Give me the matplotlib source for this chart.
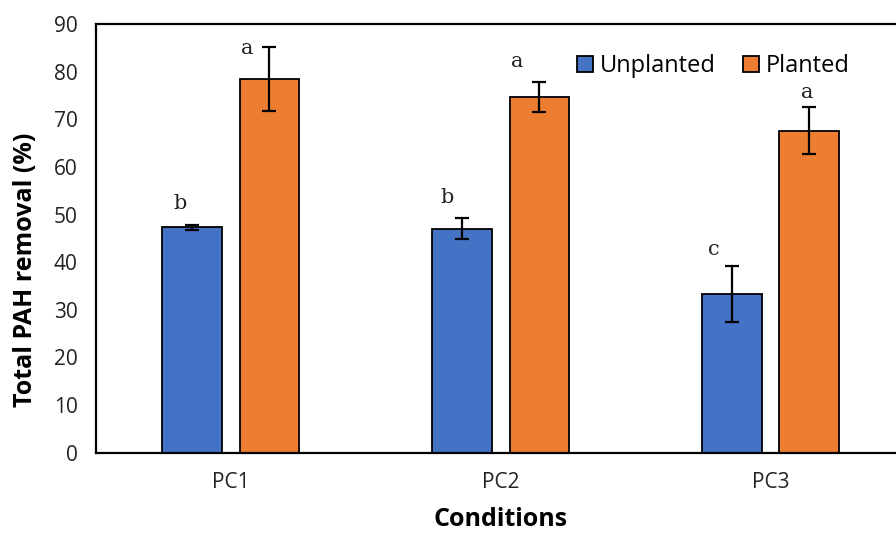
import matplotlib.pyplot as plt
import numpy as np

# data
conditions = ['PC1', 'PC2', 'PC3']
unplanted = [47.3, 47.0, 33.3]
unplanted_err = [0.6, 2.2, 5.9]
planted = [78.4, 74.7, 67.6]
planted_err = [6.7, 3.2, 4.9]
unplanted_letters = ['b', 'b', 'c']
planted_letters = ['a', 'a', 'a']

blue = '#4472C4'
orange = '#ED7D31'

fig = plt.figure(figsize=(8.96, 5.33), dpi=100)
# the reference is cropped on the right, so the axes run slightly past the figure edge
ax = fig.add_axes([0.107, 0.1507, 0.904, 0.8043])

x = np.arange(len(conditions))
width = 0.222
off = 0.143

err_kw = dict(ecolor='black', elinewidth=1.6, capsize=5, capthick=1.6)
b1 = ax.bar(x - off, unplanted, width, color=blue, edgecolor='black', linewidth=1.3,
            yerr=unplanted_err, error_kw=err_kw, label='Unplanted', zorder=2)
b2 = ax.bar(x + off, planted, width, color=orange, edgecolor='black', linewidth=1.3,
            yerr=planted_err, error_kw=err_kw, label='Planted', zorder=2)

# significance letters (offsets in points from the top of each error bar)
letter_font = dict(family='DejaVu Serif', fontsize=15, color='#222222')
unplanted_offsets = [(-9, 8), (-11, 8), (-13, 5)]
planted_offsets = [(-16, -8), (-16, 8), (-2, 4)]
for i in range(len(conditions)):
    ax.annotate(unplanted_letters[i], (x[i] - off, unplanted[i] + unplanted_err[i]),
                xytext=unplanted_offsets[i], textcoords='offset points',
                ha='center', va='bottom', **letter_font)
    ax.annotate(planted_letters[i], (x[i] + off, planted[i] + planted_err[i]),
                xytext=planted_offsets[i], textcoords='offset points',
                ha='center', va='bottom', **letter_font)

ax.set_xlim(-0.5, 2.5)
ax.set_ylim(0, 90)
ax.set_yticks(np.arange(0, 91, 10))
ax.set_xticks(x)
ax.set_xticklabels(conditions)
ax.tick_params(axis='both', length=0, labelsize=15, colors='#222222', labelfontfamily='Open Sans')
ax.tick_params(axis='y', pad=13)
ax.tick_params(axis='x', pad=14)

for s in ax.spines.values():
    s.set_linewidth(1.6)
    s.set_color('black')

ax.set_ylabel('Total PAH removal (%)', fontsize=18, fontweight='bold', family='Open Sans')
ax.yaxis.set_label_coords(-0.072, 0.427)
ax.set_xlabel('Conditions', fontsize=18, fontweight='bold', family='Open Sans', labelpad=10)

ax.legend(loc='upper left', bbox_to_anchor=(0.579, 0.957), ncol=2, frameon=False,
          prop={'family': 'Open Sans', 'size': 17}, handlelength=0.68, handleheight=0.68,
          handletextpad=0.3, columnspacing=1.15, borderpad=0)

fig.savefig('out.png', dpi=100)
